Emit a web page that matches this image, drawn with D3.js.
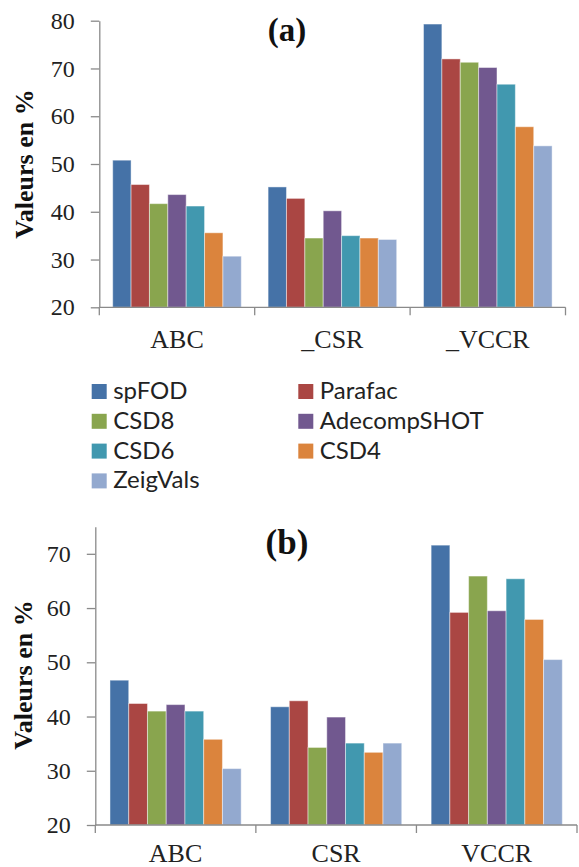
<!DOCTYPE html>
<html>
<head>
<meta charset="utf-8">
<script src="https://cdn.jsdelivr.net/npm/d3@7"></script>
<style>
  body { margin: 0; background: #fff; }
  svg { display: block; }
</style>
</head>
<body>
<div id="plot"></div>
<script>
// methods (series) and their colours
var methods = ["spFOD", "Parafac", "CSD8", "AdecompSHOT", "CSD6", "CSD4", "ZeigVals"];
var colors = ["#4572A7", "#AA4643", "#89A54E", "#71588F", "#4198AF", "#DB843D", "#93A9CF"];

// panel (a)
var categoriesA = ["ABC", "_CSR", "_VCCR"];
var a_ABC  = [50.8, 45.7, 41.7, 43.6, 41.2, 35.6, 30.7];
var a_CSR  = [45.2, 42.8, 34.5, 40.2, 35.0, 34.5, 34.2];
var a_VCCR = [79.3, 72.0, 71.3, 70.2, 66.7, 57.8, 53.8];
var ticksA = [20, 30, 40, 50, 60, 70, 80];

// panel (b)
var categoriesB = ["ABC", "CSR", "VCCR"];
var b_ABC  = [46.7, 42.4, 41.0, 42.2, 41.0, 35.8, 30.4];
var b_CSR  = [41.8, 42.9, 34.3, 39.9, 35.1, 33.4, 35.1];
var b_VCCR = [71.6, 59.2, 65.9, 59.5, 65.4, 57.9, 50.5];
var ticksB = [20, 30, 40, 50, 60, 70];

var SERIF = "'Liberation Serif', 'Times New Roman', serif";
var SANS = "Lato, 'Noto Sans', sans-serif";
var W = 579, H = 867;
var svg = d3.select("#plot").append("svg").attr("width", W).attr("height", H);

function drawPanel(opt) {
	var g = svg.append("g");
	var rows = opt.cats.map(function(c, i) { return { cat: c, vals: opt.values[i] }; });

	var x0 = d3.scaleBand().domain(opt.cats).range(opt.xRange)
		.paddingInner(opt.pad).paddingOuter(opt.pad / 2);
	var x1 = d3.scaleBand().domain(methods).range([0, x0.bandwidth()]);
	var y = d3.scaleLinear().domain(opt.yDomain).range(opt.yRange);

	// bars
	var grp = g.selectAll(".grp").data(rows).enter().append("g")
		.attr("transform", function(d) { return "translate(" + x0(d.cat) + ",0)"; });
	grp.selectAll("rect").data(function(d) { return d.vals; }).enter().append("rect")
		.attr("x", function(d, i) { return x1(methods[i]); })
		.attr("width", x1.bandwidth())
		.attr("y", function(d) { return y(d); })
		.attr("height", function(d) { return y(opt.yDomain[0]) - y(d); })
		.attr("fill", function(d, i) { return colors[i]; })
		.attr("stroke", "#ffffff").attr("stroke-opacity", 0.45).attr("stroke-width", 1);

	// y axis
	var ya = g.append("g").attr("transform", "translate(" + opt.xRange[0] + ",0)")
		.call(d3.axisLeft(y).tickValues(opt.ticks).tickSize(8.5).tickSizeOuter(0).tickPadding(16));
	ya.attr("font-family", null).attr("font-size", null);
	ya.select(".domain").attr("stroke", "#8a8a8a").attr("stroke-width", 1.3);
	ya.selectAll(".tick line").attr("stroke", "#8a8a8a").attr("stroke-width", 1.3);
	ya.selectAll(".tick text")
		.style("font-family", SERIF).style("font-size", "24px").attr("fill", "#222");

	// x axis line + group dividers
	var y0 = y(opt.yDomain[0]);
	g.append("line").attr("x1", opt.xRange[0]).attr("x2", opt.xRange[1])
		.attr("y1", y0).attr("y2", y0).attr("stroke", "#8a8a8a").attr("stroke-width", 1.3);
	var bounds = d3.range(opt.cats.length + 1).map(function(i) { return opt.xRange[0] + i * x0.step(); });
	g.selectAll(".div").data(bounds).enter().append("line")
		.attr("x1", function(d) { return d; }).attr("x2", function(d) { return d; })
		.attr("y1", y0).attr("y2", y0 + 8)
		.attr("stroke", "#8a8a8a").attr("stroke-width", 1.3);

	// category labels
	g.selectAll(".cat").data(opt.cats).enter().append("text")
		.attr("x", function(d) { return x0(d) + x0.bandwidth() / 2; })
		.attr("y", opt.catY)
		.attr("text-anchor", "middle")
		.style("font-family", SERIF).style("font-size", "26px").attr("fill", "#222")
		.text(function(d) { return d; });

	// y title
	g.append("text")
		.attr("transform", "translate(" + opt.titleX + "," + opt.titleY + ") rotate(-90)")
		.attr("text-anchor", "middle")
		.style("font-family", SERIF).style("font-size", "26px").style("font-weight", "bold")
		.attr("fill", "#111")
		.text("Valeurs en %");

	// panel label
	g.append("text")
		.attr("x", 287).attr("y", opt.labelY)
		.attr("text-anchor", "middle")
		.style("font-family", SERIF).style("font-weight", "bold")
		.style("font-size", opt.labelSize + "px").attr("fill", "#111")
		.text(opt.label);
}

drawPanel({
	cats: categoriesA, values: [a_ABC, a_CSR, a_VCCR], ticks: ticksA,
	yDomain: [20, 80], yRange: [307.3, 20.7], xRange: [99.3, 565.5], pad: 0.1725,
	catY: 348, titleX: 33, titleY: 164, label: "(a)", labelY: 41, labelSize: 33
});

drawPanel({
	cats: categoriesB, values: [b_ABC, b_CSR, b_VCCR], ticks: ticksB,
	yDomain: [20, 75], yRange: [825, 526.7], xRange: [95.3, 577], pad: 0.183,
	catY: 861.5, titleX: 32, titleY: 675, label: "(b)", labelY: 554, labelSize: 35
});

// legend
var legend = svg.append("g");
var item = legend.selectAll("g").data(methods).enter().append("g")
	.attr("transform", function(d, i) {
		return "translate(" + (i % 2 === 0 ? 91.7 : 298.3) + "," + (399 + Math.floor(i / 2) * 29.8) + ")";
	});
item.append("rect").attr("x", 0).attr("y", -15).attr("width", 15).attr("height", 15)
	.attr("fill", function(d, i) { return colors[i]; });
item.append("text").attr("x", 21.5).attr("y", 0)
	.style("font-family", SANS).style("font-size", "24px").attr("fill", "#222")
	.text(function(d) { return d; });
</script>
</body>
</html>
